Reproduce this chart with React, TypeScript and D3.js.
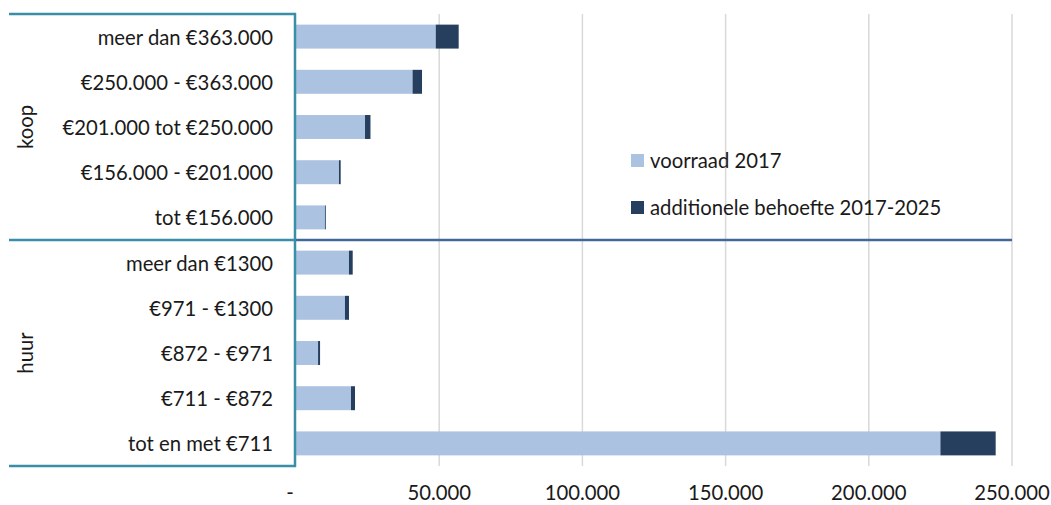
import React from "react";
import * as d3 from "d3";

// Housing categories, top to bottom, grouped into koop and huur
const categories = [
  "meer dan €363.000",
  "€250.000 - €363.000",
  "€201.000 tot €250.000",
  "€156.000 - €201.000",
  "tot €156.000",
  "meer dan €1300",
  "€971 - €1300",
  "€872 - €971",
  "€711 - €872",
  "tot en met €711",
];
const groups = [
  { name: "koop", from: 0, to: 4 },
  { name: "huur", from: 5, to: 9 },
];
const voorraad2017 = [48800, 40700, 24100, 15000, 10100, 18500, 17100, 7700, 19200, 225000];
const additioneel = [8000, 3300, 1900, 600, 300, 1300, 1400, 700, 1400, 19300];
const ticks = [0, 50000, 100000, 150000, 200000, 250000];
const seriesNames = ["voorraad 2017", "additionele behoefte 2017-2025"];
const seriesColors = ["#abc2e1", "#263f5f"];

const W = 1051;
const H = 505;
const FONT = "Lato, 'Open Sans', sans-serif";
const FS = 20.3;

export default function App() {
  const x = d3.scaleLinear().domain([0, 250000]).range([296, 1012]);
  const y = d3
    .scaleBand<string>()
    .domain(categories)
    .range([14, 466])
    .paddingInner(0.47)
    .paddingOuter(0.235);
  const step = y.step();
  const top = 14;
  const bottom = 466;
  const divY = top + step * 5;
  const fmt = (v: number) => (v === 0 ? "-" : d3.format(",")(v).replace(/,/g, "."));

  return (
    <svg
      width={W}
      height={H}
      style={{ position: "absolute", left: 0, top: 0, background: "#fff" }}
      fontFamily={FONT}
    >
      {/* vertical gridlines */}
      {ticks.slice(1).map((t) => (
        <line key={t} x1={x(t)} x2={x(t)} y1={top} y2={bottom} stroke="#d9d9d9" strokeWidth={1.5} />
      ))}

      {/* stacked bars */}
      {categories.map((c, i) => {
        const v0 = voorraad2017[i];
        const v1 = additioneel[i];
        return (
          <g key={c}>
            <rect
              x={x(0)}
              y={y(c)}
              width={x(v0) - x(0)}
              height={y.bandwidth()}
              fill={seriesColors[0]}
            />
            <rect
              x={x(v0)}
              y={y(c)}
              width={x(v0 + v1) - x(v0)}
              height={y.bandwidth()}
              fill={seriesColors[1]}
            />
          </g>
        );
      })}

      {/* group frame */}
      <line x1={9} x2={296} y1={top} y2={top} stroke="#3a8fa6" strokeWidth={2.5} />
      <line x1={9} x2={296} y1={bottom} y2={bottom} stroke="#3a8fa6" strokeWidth={2.5} />
      <line x1={9} x2={296} y1={divY} y2={divY} stroke="#3a8fa6" strokeWidth={2.5} />
      <line x1={296} x2={1012} y1={divY} y2={divY} stroke="#44679a" strokeWidth={2.5} />
      <line x1={295} x2={295} y1={top - 1} y2={bottom + 1} stroke="#3a8fa6" strokeWidth={2.5} />

      {/* category labels */}
      {categories.map((c) => (
        <text
          key={c}
          x={273}
          y={(y(c) as number) + y.bandwidth() / 2}
          textAnchor="end"
          dominantBaseline="central"
          fontSize={FS}
          fill="#1a1a1a"
        >
          {c}
        </text>
      ))}

      {/* group labels */}
      {groups.map((g) => {
        const cy = top + (step * (g.from + g.to + 1)) / 2;
        return (
          <text
            key={g.name}
            transform={`translate(25,${cy}) rotate(-90)`}
            textAnchor="middle"
            dominantBaseline="central"
            fontSize={FS}
            fill="#1a1a1a"
          >
            {g.name}
          </text>
        );
      })}

      {/* x axis tick labels */}
      {ticks.map((t) => (
        <text
          key={t}
          x={t === 0 ? x(t) - 6 : x(t)}
          y={500}
          textAnchor="middle"
          fontSize={FS}
          fill="#1a1a1a"
        >
          {fmt(t)}
        </text>
      ))}

      {/* legend */}
      {seriesNames.map((n, i) => (
        <g key={n} transform={`translate(631,${154 + i * 47})`}>
          <rect x={0} y={0} width={13} height={13} fill={seriesColors[i]} />
          <text x={19} y={13.5} fontSize={FS} fill="#1a1a1a">
            {n}
          </text>
        </g>
      ))}
    </svg>
  );
}
